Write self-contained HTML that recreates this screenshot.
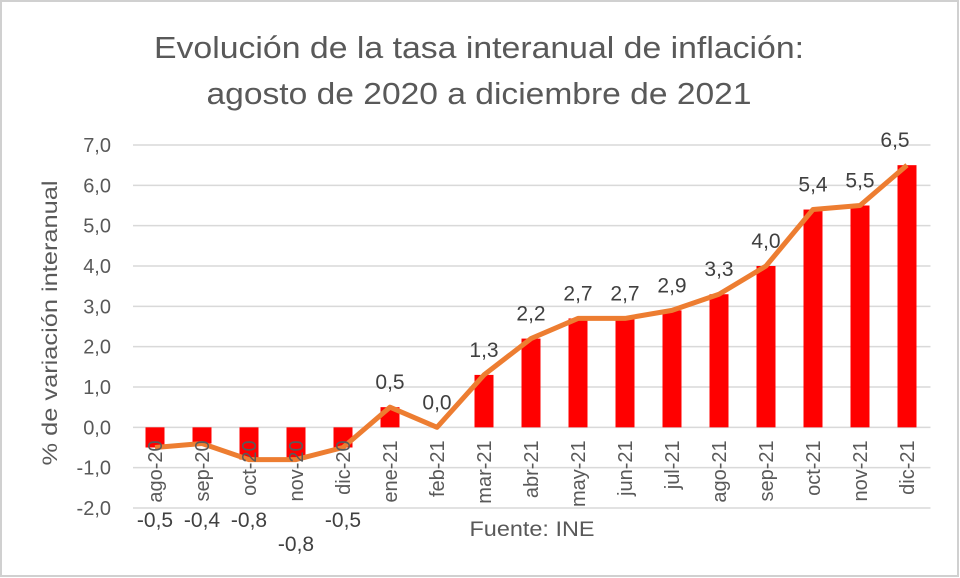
<!DOCTYPE html>
<html><head><meta charset="utf-8"><style>
body{margin:0;background:#fff}
svg{display:block;font-family:"Liberation Sans",sans-serif}
</style></head><body>
<svg id="chart" width="960" height="578">
<rect x="1" y="1" width="957" height="575" fill="#fff" stroke="#d0d0d0" stroke-width="2"/>
<text x="479" y="58" text-anchor="middle" font-size="31" fill="#595959" textLength="650" lengthAdjust="spacingAndGlyphs">Evolución de la tasa interanual de inflación:</text>
<text x="479" y="104" text-anchor="middle" font-size="31" fill="#595959" textLength="545" lengthAdjust="spacingAndGlyphs">agosto de 2020 a diciembre de 2021</text>
<text transform="translate(57,323) rotate(-90)" text-anchor="middle" font-size="21" fill="#595959" textLength="285" lengthAdjust="spacingAndGlyphs">% de variación interanual</text>
<text x="532" y="536" text-anchor="middle" font-size="21" fill="#595959" textLength="125" lengthAdjust="spacingAndGlyphs">Fuente: INE</text>
<g id="grid"></g><g id="bars"></g><g id="line"></g><g id="labels"></g>
</svg>
<script>
const categories=["ago-20","sep-20","oct-20","nov-20","dic-20","ene-21","feb-21","mar-21","abr-21","may-21","jun-21","jul-21","ago-21","sep-21","oct-21","nov-21","dic-21"];
const values=[-0.5,-0.4,-0.8,-0.8,-0.5,0.5,0.0,1.3,2.2,2.7,2.7,2.9,3.3,4.0,5.4,5.5,6.5];
const valueLabels=["-0,5","-0,4","-0,8","-0,8","-0,5","0,5","0,0","1,3","2,2","2,7","2,7","2,9","3,3","4,0","5,4","5,5","6,5"];
const yTicks=[-2,-1,0,1,2,3,4,5,6,7];
const yTickLabels=["-2,0","-1,0","0,0","1,0","2,0","3,0","4,0","5,0","6,0","7,0"];
const NS="http://www.w3.org/2000/svg";
const L=131.5,R=930.5,T=145,B=508;
const y=v=>B-(v+2)*(B-T)/9;
const step=(R-L)/categories.length;
const x=i=>L+step*(i+0.5);
function mk(t,a,p){const e=document.createElementNS(NS,t);for(const k in a)e.setAttribute(k,a[k]);document.getElementById(p).appendChild(e);return e;}
yTicks.forEach((t,i)=>{
 const g=mk('line',{x1:133,x2:R,y1:y(t),y2:y(t),stroke:'#d9d9d9','stroke-width':1.5},'grid');
 
 
 const tl=mk('text',{x:111,y:y(t)+7,'text-anchor':'end','font-size':20,fill:'#595959'},'grid');
 tl.textContent=yTickLabels[i];
 
 
});
const bw=19;
values.forEach((v,i)=>{
 const b=mk('rect',{x:x(i)-bw/2,y:Math.min(y(v),y(0)),width:bw,height:Math.abs(y(v)-y(0)),fill:'#ff0000'},'bars');
 
 
});
const pl=mk('polyline',{points:values.map((v,i)=>x(i)+','+y(v)).join(' '),fill:'none',stroke:'#ed7d31','stroke-width':5,'stroke-linejoin':'round'},'line');


categories.forEach((c,i)=>{
 const t=mk('text',{transform:`translate(${x(i)+7},${y(0)+13}) rotate(-90)`,'text-anchor':'end','font-size':20,fill:'#595959'},'labels');
 t.textContent=c;
 
 
});
values.forEach((v,i)=>{
 let ly=v<0?527:y(v)-18;
 if(i===3) ly=551;
 let lx=x(i);
 if(i===values.length-1) lx-=12;
 const t=mk('text',{x:lx,y:ly,'text-anchor':'middle','font-size':21,fill:'#404040'},'labels');
 t.textContent=valueLabels[i];
 
 
});
</script>
</body></html>
